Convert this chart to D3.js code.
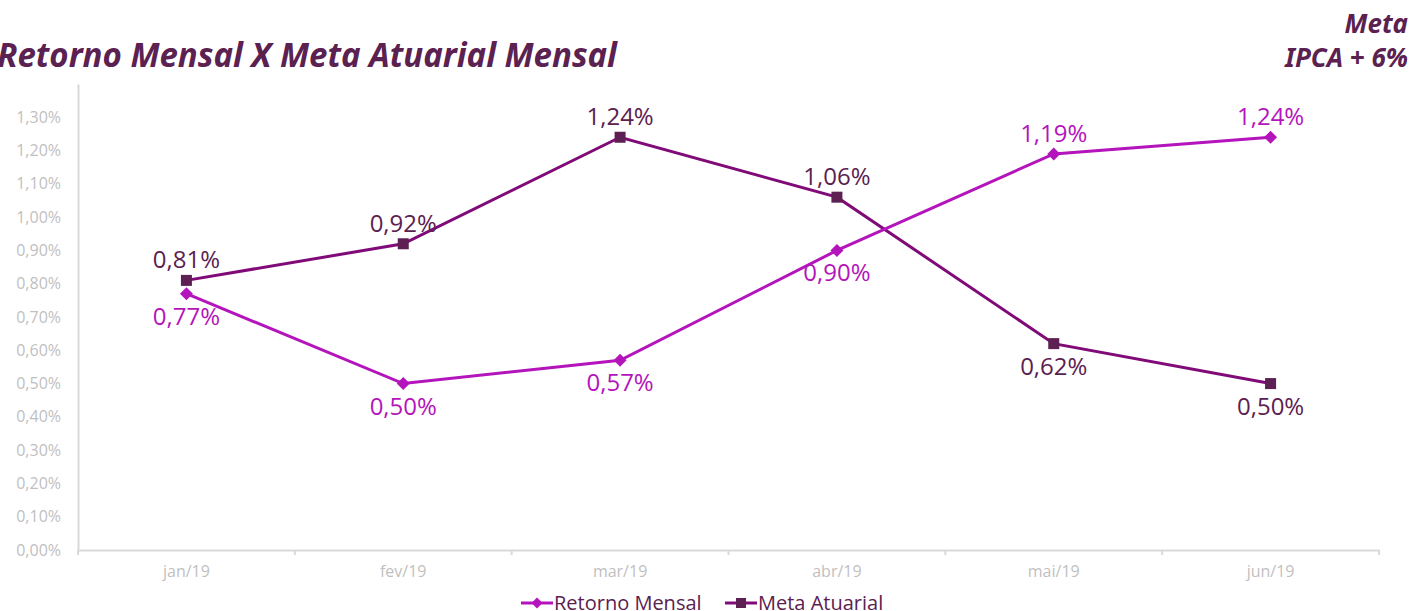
<!DOCTYPE html>
<html>
<head>
<meta charset="utf-8">
<script src="https://cdnjs.cloudflare.com/ajax/libs/d3/7.8.5/d3.min.js"></script>
<style>
  body { margin: 0; background: #fff; }
  svg { display: block; }
</style>
</head>
<body>
<div id="chart-area"></div>
<script>
const months = ['jan/19', 'fev/19', 'mar/19', 'abr/19', 'mai/19', 'jun/19']
const retorno = [0.0077, 0.0050, 0.0057, 0.0090, 0.0119, 0.0124]
const meta = [0.0081, 0.0092, 0.0124, 0.0106, 0.0062, 0.0050]
const yTicks = [0, 0.001, 0.002, 0.003, 0.004, 0.005, 0.006, 0.007, 0.008, 0.009, 0.010, 0.011, 0.012, 0.013]

const W = 1411, H = 611
const LEFT = 78, RIGHT = 1379, TOP = 84, BOTTOM = 550

const ptBR = d3.formatLocale({ decimal: ",", thousands: ".", grouping: [3], currency: ["R$", ""] })
const pct = ptBR.format(".2%")

const C_RET = "#b414bb", C_META = "#800a78", C_META_MK = "#5e1f52", C_TXT = "#5b2150"
const FONT = "'Open Sans', 'Noto Sans', sans-serif"

const svg = d3.select("#chart-area").append("svg")
    .attr("width", W)
    .attr("height", H)

const x = d3.scaleBand().domain(months).range([LEFT, RIGHT])
const y = d3.scaleLinear().domain([0, 0.014]).range([BOTTOM, TOP])

// title
svg.append("text")
    .attr("x", -3)
    .attr("y", 67)
    .attr("font-family", "'Noto Sans', sans-serif")
    .attr("font-weight", "bold")
    .attr("font-style", "italic")
    .attr("font-size", "34px")
    .attr("textLength", 620)
    .attr("lengthAdjust", "spacingAndGlyphs")
    .attr("fill", C_TXT)
    .text("Retorno Mensal X Meta Atuarial Mensal")

const note = svg.append("text")
    .attr("text-anchor", "end")
    .attr("font-family", "'Noto Sans', sans-serif")
    .attr("font-weight", "bold")
    .attr("font-style", "italic")
    .attr("font-size", "26px")
    .attr("fill", C_TXT)
note.append("tspan").attr("x", 1408).attr("y", 33).text("Meta")
note.append("tspan").attr("x", 1408).attr("y", 67).text("IPCA + 6%")

// y axis
const yAxis = svg.append("g")
    .attr("transform", `translate(${LEFT},0)`)
    .call(d3.axisLeft(y).tickValues(yTicks).tickFormat(pct).tickSize(0).tickPadding(17))
yAxis.select(".domain").attr("stroke", "#d9d9d9").attr("stroke-width", 2)
yAxis.selectAll("text")
    .attr("font-family", FONT)
    .attr("font-size", "16px")
    .attr("fill", "#bfbfbf")

// x axis
const xAxis = svg.append("g")
    .attr("transform", `translate(0,${BOTTOM})`)
    .call(d3.axisBottom(x).tickSize(0).tickPadding(16))
xAxis.select(".domain").attr("stroke", "#d9d9d9").attr("stroke-width", 2)
xAxis.selectAll("text")
    .attr("font-family", FONT)
    .attr("font-size", "16px")
    .attr("fill", "#bfbfbf")
// boundary ticks
const bounds = months.map(m => x(m)).concat([x(months[months.length - 1]) + x.bandwidth()])
xAxis.selectAll(".bt").data(bounds).enter().append("line")
    .attr("x1", d => d).attr("x2", d => d)
    .attr("y1", 0).attr("y2", 5)
    .attr("stroke", "#d9d9d9").attr("stroke-width", 2)

const cx = m => x(m) + x.bandwidth() / 2
const line = d3.line().x((d, i) => cx(months[i])).y(d => y(d))

// meta
svg.append("path").datum(meta)
    .attr("d", line)
    .attr("fill", "none")
    .attr("stroke", C_META)
    .attr("stroke-width", 3)
svg.selectAll(".mk-meta").data(meta).enter().append("rect")
    .attr("x", (d, i) => cx(months[i]) - 5.5)
    .attr("y", d => y(d) - 5.5)
    .attr("width", 11).attr("height", 11)
    .attr("fill", C_META_MK)

// retorno
svg.append("path").datum(retorno)
    .attr("d", line)
    .attr("fill", "none")
    .attr("stroke", C_RET)
    .attr("stroke-width", 3)
svg.selectAll(".mk-ret").data(retorno).enter().append("path")
    .attr("transform", (d, i) => `translate(${cx(months[i])},${y(d)})`)
    .attr("d", "M0,-6.5L6.5,0L0,6.5L-6.5,0Z")
    .attr("fill", C_RET)

// data labels: above when the series is the higher one that month
function labels(vals, other, color) {
  svg.selectAll(null).data(vals).enter().append("text")
      .attr("x", (d, i) => cx(months[i]))
      .attr("y", (d, i) => d >= other[i] ? y(d) - 12 : y(d) + 31)
      .attr("text-anchor", "middle")
      .attr("font-family", FONT)
      .attr("font-size", "24px")
      .attr("fill", color)
      .text(d => pct(d))
}
labels(meta, retorno, C_TXT)
labels(retorno, meta, C_RET)

// legend
const lg = svg.append("g").attr("transform", "translate(521,603)")
const items = [
  { name: "Retorno Mensal", color: C_RET, mark: "diamond", x: 0 },
  { name: "Meta Atuarial", color: C_META, mark: "square", x: 204 }
]
items.forEach(it => {
  const g = lg.append("g").attr("transform", `translate(${it.x},0)`)
  g.append("line").attr("x1", 0).attr("x2", 32).attr("y1", 0).attr("y2", 0)
      .attr("stroke", it.color).attr("stroke-width", 3)
  if (it.mark === "diamond") {
    g.append("path").attr("d", "M16,-5.5L21.5,0L16,5.5L10.5,0Z").attr("fill", it.color)
  } else {
    g.append("rect").attr("x", 11).attr("y", -5).attr("width", 10).attr("height", 10).attr("fill", C_META_MK)
  }
  g.append("text").attr("x", 33).attr("y", 7)
      .attr("font-family", FONT)
      .attr("font-size", "20px")
      .attr("fill", C_TXT)
      .text(it.name)
})
</script>
</body>
</html>
